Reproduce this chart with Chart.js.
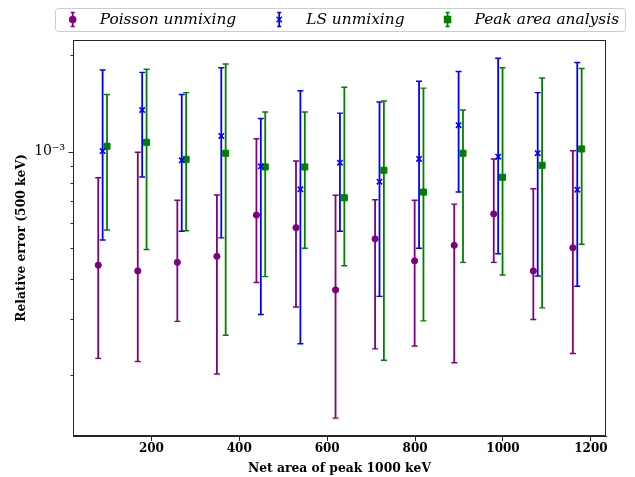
<!DOCTYPE html>
<html><head><meta charset="utf-8">
<script src="https://cdn.jsdelivr.net/npm/chart.js@4/dist/chart.umd.min.js"></script>
<style>html,body{margin:0;padding:0;background:#fff}canvas{display:block}</style>
</head><body>
<canvas id="c" width="635" height="477"></canvas>
<script>
// ---- data ----
const seriesLabels = ['Poisson unmixing', 'LS unmixing', 'Peak area analysis'];
const seriesColors = ['#800080', '#0000ff', '#008000'];

const poissonX = [79, 169, 259, 349, 439, 529, 619, 709, 799, 889, 979, 1069, 1159];
const poissonY = [4.42e-4, 4.24e-4, 4.51e-4, 4.71e-4, 6.34e-4, 5.79e-4, 3.70e-4, 5.34e-4, 4.56e-4, 5.10e-4, 6.39e-4, 4.24e-4, 5.01e-4];
const poissonLow = [2.26e-4, 2.21e-4, 2.95e-4, 2.02e-4, 3.90e-4, 3.27e-4, 1.47e-4, 2.42e-4, 2.47e-4, 2.19e-4, 4.51e-4, 2.99e-4, 2.34e-4];
const poissonHigh = [8.29e-4, 9.96e-4, 7.05e-4, 7.32e-4, 1.098e-3, 9.35e-4, 7.31e-4, 7.08e-4, 7.05e-4, 6.86e-4, 9.49e-4, 7.66e-4, 1.007e-3];

const lsX = [89, 179, 269, 359, 449, 539, 629, 719, 809, 899, 989, 1079, 1169];
const lsY = [1.005e-3, 1.35e-3, 9.40e-4, 1.12e-3, 9.00e-4, 7.63e-4, 9.24e-4, 8.06e-4, 9.49e-4, 1.21e-3, 9.65e-4, 9.89e-4, 7.61e-4];
const lsLow = [5.30e-4, 8.34e-4, 5.64e-4, 5.38e-4, 3.10e-4, 2.51e-4, 5.64e-4, 3.53e-4, 4.99e-4, 7.48e-4, 4.80e-4, 4.09e-4, 3.80e-4];
const lsHigh = [1.80e-3, 1.77e-3, 1.51e-3, 1.83e-3, 1.27e-3, 1.55e-3, 1.32e-3, 1.43e-3, 1.66e-3, 1.78e-3, 1.96e-3, 1.53e-3, 1.90e-3];

const peakX = [99, 189, 279, 369, 459, 549, 639, 729, 819, 909, 999, 1089, 1179];
const peakY = [1.04e-3, 1.07e-3, 9.47e-4, 9.89e-4, 8.96e-4, 8.96e-4, 7.18e-4, 8.75e-4, 7.48e-4, 9.89e-4, 8.32e-4, 9.07e-4, 1.02e-3];
const peakLow = [5.69e-4, 4.95e-4, 5.66e-4, 2.67e-4, 4.07e-4, 4.99e-4, 4.40e-4, 2.23e-4, 2.96e-4, 4.51e-4, 4.12e-4, 3.25e-4, 5.14e-4];
const peakHigh = [1.51e-3, 1.81e-3, 1.53e-3, 1.88e-3, 1.33e-3, 1.33e-3, 1.59e-3, 1.44e-3, 1.58e-3, 1.35e-3, 1.83e-3, 1.70e-3, 1.82e-3];

const xTicks = [200, 400, 600, 800, 1000, 1200];
const yTicks = [2e-4, 3e-4, 4e-4, 5e-4, 6e-4, 7e-4, 8e-4, 9e-4, 1e-3, 2e-3];
const xTitle = 'Net area of peak 1000 keV';
const yTitle = 'Relative error (500 keV)';

// ---- build ----
function pts(xs, ys, lo, hi) {
  return xs.map((x, i) => ({x: x, y: ys[i], lo: lo[i], hi: hi[i]}));
}
const markerStyles = ['circle', 'crossRot', 'rect'];
const markerRadius = [3.1, 3.8, 4.3];

const datasets = [
  pts(poissonX, poissonY, poissonLow, poissonHigh),
  pts(lsX, lsY, lsLow, lsHigh),
  pts(peakX, peakY, peakLow, peakHigh)
].map((d, i) => ({
  label: seriesLabels[i],
  data: d,
  showLine: false,
  pointStyle: markerStyles[i],
  pointRadius: markerRadius[i],
  pointHoverRadius: markerRadius[i],
  borderColor: seriesColors[i],
  backgroundColor: seriesColors[i],
  pointBorderWidth: i === 1 ? 1.6 : 1
}));

const FRAME = '#262626';

const errorBars = {
  id: 'errorBars',
  beforeDatasetsDraw(chart) {
    const {ctx, chartArea: a, scales: {x, y}} = chart;
    ctx.save();
    ctx.beginPath();
    ctx.rect(a.left, a.top, a.right - a.left, a.bottom - a.top);
    ctx.clip();
    chart.data.datasets.forEach(ds => {
      ctx.strokeStyle = ds.borderColor;
      ds.data.forEach(p => {
        const px = x.getPixelForValue(p.x);
        const yl = y.getPixelForValue(p.lo), yh = y.getPixelForValue(p.hi);
        ctx.lineWidth = 1.8;
        ctx.beginPath();
        ctx.moveTo(px, yl); ctx.lineTo(px, yh);
        ctx.stroke();
        ctx.lineWidth = 1.4;
        ctx.beginPath();
        ctx.moveTo(px - 3, yl); ctx.lineTo(px + 3, yl);
        ctx.moveTo(px - 3, yh); ctx.lineTo(px + 3, yh);
        ctx.stroke();
      });
    });
    ctx.restore();
  }
};

const frameAndTicks = {
  id: 'frameAndTicks',
  afterDatasetsDraw(chart) {
    const {ctx, chartArea: a, scales: {y}} = chart;
    ctx.save();
    ctx.strokeStyle = FRAME;
    ctx.lineWidth = 1;
    ctx.strokeRect(Math.round(a.left) + 0.5, Math.round(a.top) + 0.5,
      Math.round(a.right - a.left) - 1, Math.round(a.bottom - a.top) - 1);
    y.ticks.forEach(t => {
      const py = Math.round(y.getPixelForValue(t.value)) + 0.5;
      const major = Math.abs(Math.log10(t.value) - Math.round(Math.log10(t.value))) < 1e-9;
      const len = major ? 5 : 3;
      ctx.beginPath();
      ctx.moveTo(a.left + 0.5, py); ctx.lineTo(a.left + 0.5 - len, py);
      ctx.stroke();
    });
    ctx.restore();
  }
};

const legendBox = {
  id: 'legendBox',
  afterDraw(chart) {
    const {ctx} = chart;
    ctx.save();
    ctx.font = 'italic 15.4px "DejaVu Serif"';
    const cy = 19.5;
    let mx = 72.7;
    const items = [];
    chart.data.datasets.forEach((ds, i) => {
      const tx = mx + 27;
      const w = ctx.measureText(ds.label).width;
      items.push({mx, tx, w, ds, i});
      mx = tx + w + 43;
    });
    const last = items[items.length - 1];
    const left = 55, top = 8, right = last.tx + last.w + 6, bottom = 31;
    ctx.beginPath();
    if (ctx.roundRect) ctx.roundRect(left + 0.5, top + 0.5, right - left, bottom - top, 3);
    else ctx.rect(left + 0.5, top + 0.5, right - left, bottom - top);
    ctx.fillStyle = 'rgba(255,255,255,0.8)';
    ctx.fill();
    ctx.strokeStyle = '#cccccc';
    ctx.lineWidth = 1;
    ctx.stroke();
    items.forEach(it => {
      const c = it.ds.borderColor;
      ctx.strokeStyle = c; ctx.fillStyle = c;
      ctx.lineWidth = 1.8;
      ctx.beginPath(); ctx.moveTo(it.mx, cy - 7); ctx.lineTo(it.mx, cy + 7); ctx.stroke();
      ctx.lineWidth = 1.4;
      ctx.beginPath();
      ctx.moveTo(it.mx - 2, cy - 7); ctx.lineTo(it.mx + 2, cy - 7);
      ctx.moveTo(it.mx - 2, cy + 7); ctx.lineTo(it.mx + 2, cy + 7);
      ctx.stroke();
      Chart.helpers.drawPoint(ctx, {
        pointStyle: it.ds.pointStyle, radius: it.ds.pointRadius, rotation: 0,
        borderWidth: it.ds.pointBorderWidth
      }, it.mx, cy);
      ctx.fillStyle = '#000';
      ctx.textBaseline = 'middle';
      ctx.textAlign = 'left';
      ctx.fillText(it.ds.label, it.tx, cy);
    });
    ctx.restore();
  }
};

Chart.defaults.color = '#000';
Chart.defaults.font.family = '"DejaVu Serif", serif';

new Chart(document.getElementById('c'), {
  type: 'scatter',
  data: {datasets},
  options: {
    responsive: false,
    animation: false,
    devicePixelRatio: 1,
    layout: {padding: {left: 0, right: 29, top: 40, bottom: 0}},
    plugins: {legend: {display: false}, tooltip: {enabled: false}},
    scales: {
      x: {
        type: 'linear',
        min: 21.6, max: 1234.4,
        afterBuildTicks: s => { s.ticks = xTicks.map(v => ({value: v})); },
        afterFit: s => { s.height = 41; },
        grid: {drawOnChartArea: false, drawTicks: true, tickLength: 5, color: FRAME},
        border: {display: true, color: FRAME, width: 1},
        ticks: {
          autoSkip: false, maxRotation: 0, padding: 1,
          font: {family: '"DejaVu Serif", serif', size: 12, weight: 'bold'},
          callback: v => String(v)
        },
        title: {
          display: true, text: xTitle, padding: {top: 0, bottom: 1},
          font: {family: '"DejaVu Serif", serif', size: 12.3, weight: 'bold'}
        }
      },
      y: {
        type: 'logarithmic',
        min: 1.293e-4, max: 2.234e-3,
        afterBuildTicks: s => { s.ticks = yTicks.map(v => ({value: v})); },
        afterFit: s => { s.width = 73; },
        grid: {drawOnChartArea: false, drawTicks: true, tickLength: 5, color: 'rgba(0,0,0,0)'},
        border: {display: true, color: FRAME, width: 1},
        ticks: {
          autoSkip: false, padding: 3,
          font: {family: '"DejaVu Serif", serif', size: 14},
          callback: v => (Math.abs(Math.log10(v) + 3) < 1e-9 ? '10\u207B\u00B3' : '')
        },
        title: {
          display: true, text: yTitle, padding: {top: 14, bottom: 0},
          font: {family: '"DejaVu Serif", serif', size: 12.3, weight: 'bold'}
        }
      }
    }
  },
  plugins: [errorBars, frameAndTicks, legendBox]
});
</script>
</body></html>
